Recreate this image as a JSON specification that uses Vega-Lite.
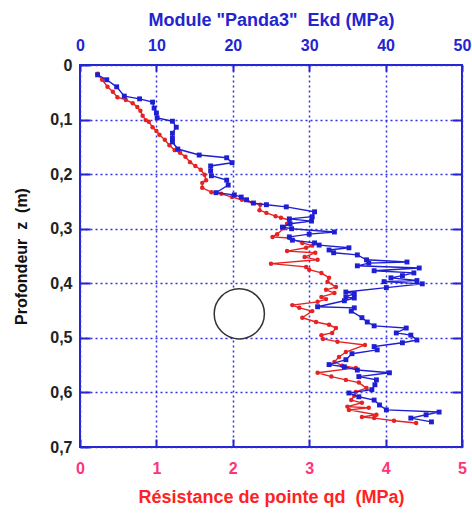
{
  "$schema": "https://vega.github.io/schema/vega-lite/v6.json",
  "width": 382,
  "height": 382,
  "autosize": {"type": "none"},
  "padding": {"left": 80, "top": 65, "right": 10, "bottom": 70},
  "config": {
    "view": {"stroke": "#2424d0", "strokeWidth": 2},
    "font": "Liberation Sans"
  },
  "datasets": {
    "red": [
      {"qd": 0.23, "z": 0.016}, {"qd": 0.29, "z": 0.027}, {"qd": 0.36, "z": 0.040}, {"qd": 0.43, "z": 0.049},
      {"qd": 0.49, "z": 0.059}, {"qd": 0.60, "z": 0.064}, {"qd": 0.69, "z": 0.070}, {"qd": 0.75, "z": 0.077},
      {"qd": 0.79, "z": 0.084}, {"qd": 0.82, "z": 0.093}, {"qd": 0.86, "z": 0.101}, {"qd": 0.90, "z": 0.104},
      {"qd": 0.95, "z": 0.114}, {"qd": 1.00, "z": 0.121}, {"qd": 1.04, "z": 0.128}, {"qd": 1.11, "z": 0.137},
      {"qd": 1.17, "z": 0.147}, {"qd": 1.24, "z": 0.156}, {"qd": 1.31, "z": 0.161}, {"qd": 1.38, "z": 0.168},
      {"qd": 1.44, "z": 0.178}, {"qd": 1.51, "z": 0.185}, {"qd": 1.58, "z": 0.192}, {"qd": 1.63, "z": 0.201},
      {"qd": 1.65, "z": 0.211}, {"qd": 1.60, "z": 0.216}, {"qd": 1.60, "z": 0.225}, {"qd": 1.72, "z": 0.233},
      {"qd": 1.85, "z": 0.236}, {"qd": 1.99, "z": 0.242}, {"qd": 2.12, "z": 0.247}, {"qd": 2.26, "z": 0.253},
      {"qd": 2.36, "z": 0.256}, {"qd": 2.35, "z": 0.266}, {"qd": 2.44, "z": 0.271}, {"qd": 2.56, "z": 0.277},
      {"qd": 2.63, "z": 0.280}, {"qd": 2.74, "z": 0.284}, {"qd": 2.71, "z": 0.291}, {"qd": 2.67, "z": 0.299},
      {"qd": 2.58, "z": 0.310}, {"qd": 2.52, "z": 0.315}, {"qd": 2.74, "z": 0.317}, {"qd": 2.91, "z": 0.326},
      {"qd": 3.04, "z": 0.331}, {"qd": 2.96, "z": 0.335}, {"qd": 2.71, "z": 0.341}, {"qd": 3.08, "z": 0.344},
      {"qd": 2.94, "z": 0.352}, {"qd": 3.11, "z": 0.357}, {"qd": 2.50, "z": 0.364}, {"qd": 2.96, "z": 0.370},
      {"qd": 3.00, "z": 0.375}, {"qd": 3.16, "z": 0.381}, {"qd": 3.26, "z": 0.390}, {"qd": 3.24, "z": 0.397},
      {"qd": 3.35, "z": 0.407}, {"qd": 3.22, "z": 0.412}, {"qd": 3.33, "z": 0.418}, {"qd": 3.16, "z": 0.425},
      {"qd": 3.22, "z": 0.429}, {"qd": 3.11, "z": 0.434}, {"qd": 2.78, "z": 0.440}, {"qd": 2.87, "z": 0.445},
      {"qd": 3.04, "z": 0.451}, {"qd": 2.91, "z": 0.463}, {"qd": 3.09, "z": 0.471}, {"qd": 3.26, "z": 0.476},
      {"qd": 3.35, "z": 0.482}, {"qd": 3.30, "z": 0.491}, {"qd": 3.16, "z": 0.495}, {"qd": 3.18, "z": 0.502},
      {"qd": 3.37, "z": 0.507}, {"qd": 3.73, "z": 0.513}, {"qd": 3.48, "z": 0.526}, {"qd": 3.39, "z": 0.535},
      {"qd": 3.33, "z": 0.544}, {"qd": 3.43, "z": 0.551}, {"qd": 3.61, "z": 0.555}, {"qd": 3.11, "z": 0.564},
      {"qd": 3.29, "z": 0.571}, {"qd": 3.48, "z": 0.577}, {"qd": 3.65, "z": 0.582}, {"qd": 3.75, "z": 0.592},
      {"qd": 3.61, "z": 0.599}, {"qd": 3.59, "z": 0.606}, {"qd": 3.55, "z": 0.614}, {"qd": 3.69, "z": 0.619},
      {"qd": 3.50, "z": 0.626}, {"qd": 3.78, "z": 0.628}, {"qd": 3.52, "z": 0.632}, {"qd": 3.88, "z": 0.641},
      {"qd": 3.69, "z": 0.645}, {"qd": 3.85, "z": 0.647}, {"qd": 4.11, "z": 0.652}, {"qd": 4.40, "z": 0.656}
    ],
    "blue": [
      {"ekd": 2.3, "z": 0.018}, {"ekd": 3.5, "z": 0.027}, {"ekd": 4.8, "z": 0.040}, {"ekd": 5.8, "z": 0.057},
      {"ekd": 7.8, "z": 0.062}, {"ekd": 9.5, "z": 0.068}, {"ekd": 9.7, "z": 0.079}, {"ekd": 10.0, "z": 0.088},
      {"ekd": 10.1, "z": 0.097}, {"ekd": 12.1, "z": 0.103}, {"ekd": 12.6, "z": 0.114}, {"ekd": 12.1, "z": 0.125},
      {"ekd": 12.1, "z": 0.134}, {"ekd": 12.1, "z": 0.141}, {"ekd": 12.8, "z": 0.154}, {"ekd": 15.6, "z": 0.165},
      {"ekd": 19.2, "z": 0.170}, {"ekd": 19.9, "z": 0.179}, {"ekd": 17.1, "z": 0.185}, {"ekd": 17.1, "z": 0.194},
      {"ekd": 17.2, "z": 0.203}, {"ekd": 19.2, "z": 0.211}, {"ekd": 19.4, "z": 0.220}, {"ekd": 17.8, "z": 0.234},
      {"ekd": 20.2, "z": 0.238}, {"ekd": 21.1, "z": 0.242}, {"ekd": 21.8, "z": 0.247}, {"ekd": 22.7, "z": 0.253},
      {"ekd": 24.4, "z": 0.256}, {"ekd": 27.0, "z": 0.260}, {"ekd": 30.7, "z": 0.269}, {"ekd": 30.4, "z": 0.278},
      {"ekd": 27.4, "z": 0.282}, {"ekd": 30.3, "z": 0.286}, {"ekd": 27.5, "z": 0.291}, {"ekd": 26.5, "z": 0.297},
      {"ekd": 27.7, "z": 0.300}, {"ekd": 33.3, "z": 0.306}, {"ekd": 30.0, "z": 0.310}, {"ekd": 27.4, "z": 0.315},
      {"ekd": 27.8, "z": 0.321}, {"ekd": 30.7, "z": 0.326}, {"ekd": 31.3, "z": 0.330}, {"ekd": 35.2, "z": 0.335},
      {"ekd": 32.6, "z": 0.339}, {"ekd": 33.2, "z": 0.344}, {"ekd": 36.3, "z": 0.348}, {"ekd": 37.5, "z": 0.357},
      {"ekd": 42.8, "z": 0.361}, {"ekd": 37.8, "z": 0.363}, {"ekd": 36.3, "z": 0.368}, {"ekd": 44.4, "z": 0.372},
      {"ekd": 38.5, "z": 0.377}, {"ekd": 43.7, "z": 0.381}, {"ekd": 42.2, "z": 0.386}, {"ekd": 40.7, "z": 0.390},
      {"ekd": 44.1, "z": 0.395}, {"ekd": 39.8, "z": 0.397}, {"ekd": 44.8, "z": 0.401}, {"ekd": 40.1, "z": 0.408},
      {"ekd": 34.8, "z": 0.416}, {"ekd": 35.9, "z": 0.419}, {"ekd": 34.8, "z": 0.425}, {"ekd": 35.9, "z": 0.427},
      {"ekd": 34.6, "z": 0.432}, {"ekd": 31.1, "z": 0.443}, {"ekd": 35.9, "z": 0.445}, {"ekd": 35.5, "z": 0.451},
      {"ekd": 36.9, "z": 0.463}, {"ekd": 37.6, "z": 0.471}, {"ekd": 38.5, "z": 0.478}, {"ekd": 42.7, "z": 0.482},
      {"ekd": 41.4, "z": 0.491}, {"ekd": 43.3, "z": 0.495}, {"ekd": 44.1, "z": 0.504}, {"ekd": 42.2, "z": 0.509},
      {"ekd": 38.5, "z": 0.516}, {"ekd": 38.9, "z": 0.522}, {"ekd": 35.6, "z": 0.529}, {"ekd": 34.8, "z": 0.540},
      {"ekd": 32.6, "z": 0.549}, {"ekd": 34.6, "z": 0.553}, {"ekd": 36.3, "z": 0.559}, {"ekd": 40.5, "z": 0.564},
      {"ekd": 36.5, "z": 0.571}, {"ekd": 38.8, "z": 0.577}, {"ekd": 38.6, "z": 0.586}, {"ekd": 38.2, "z": 0.595},
      {"ekd": 35.2, "z": 0.601}, {"ekd": 36.5, "z": 0.608}, {"ekd": 38.5, "z": 0.614}, {"ekd": 39.2, "z": 0.623},
      {"ekd": 40.1, "z": 0.632}, {"ekd": 47.0, "z": 0.636}, {"ekd": 45.3, "z": 0.641}, {"ekd": 43.3, "z": 0.647},
      {"ekd": 46.0, "z": 0.654}
    ],
    "circ": [{"qd": 2.085, "z": 0.456}]
  },
  "layer": [
    {
      "encoding": {
        "x": {
          "field": "qd", "type": "quantitative",
          "scale": {"domain": [0, 5], "nice": false, "zero": false},
          "axis": {
            "orient": "bottom", "title": "Résistance de pointe qd\u00a0 (MPa)", "values": [0, 1, 2, 3, 4, 5],
            "labelFlush": false,
            "domain": false, "grid": true, "gridColor": "#3030e8", "gridDash": [2, 3], "gridWidth": 1.5, "gridOpacity": 1,
            "tickColor": "#2424d0", "tickWidth": 2, "tickSize": -8,
            "labelColor": "#ff3377", "labelFontSize": 16, "labelFontWeight": "bold", "labelPadding": 21,
            "titleColor": "#ff2222", "titleFontSize": 18, "titleFontWeight": "bold", "titlePadding": 12
          }
        },
        "y": {
          "field": "z", "type": "quantitative",
          "scale": {"domain": [0, 0.7], "nice": false, "zero": false, "reverse": true},
          "axis": {
            "orient": "left", "title": "Profondeur\u00a0 z\u00a0 (m)", "values": [0, 0.1, 0.2, 0.3, 0.4, 0.5, 0.6, 0.7],
            "labelExpr": "datum.value == 0 ? '0' : replace(format(datum.value, '.1f'), '.', ',')",
            "labelFlush": false,
            "domain": false, "grid": true, "gridColor": "#3030e8", "gridDash": [2, 3], "gridWidth": 1.5, "gridOpacity": 1,
            "tickColor": "#2424d0", "tickWidth": 2, "tickSize": -10,
            "labelColor": "#222222", "labelFontSize": 16, "labelFontWeight": "bold", "labelPadding": 18,
            "titleColor": "#111111", "titleFontSize": 16, "titleFontWeight": "bold", "titlePadding": 20
          }
        },
        "order": {"field": "z", "type": "quantitative"}
      },
      "layer": [
        {"data": {"name": "red"}, "mark": {"type": "line", "color": "#e62222", "strokeWidth": 1.4}},
        {"data": {"name": "red"}, "mark": {"type": "point", "shape": "circle", "filled": true, "size": 20, "color": "#e62222", "opacity": 1}},
        {"data": {"name": "circ"}, "mark": {"type": "point", "shape": "circle", "size": 2520, "filled": true, "fill": "white", "fillOpacity": 1, "stroke": "#333333", "strokeWidth": 1.5, "opacity": 1}}
      ]
    },
    {
      "encoding": {
        "x": {
          "field": "ekd", "type": "quantitative",
          "scale": {"domain": [0, 50], "nice": false, "zero": false},
          "axis": {
            "orient": "top", "title": "Module \"Panda3\"\u00a0 Ekd (MPa)", "values": [0, 10, 20, 30, 40, 50],
            "labelFlush": false,
            "domain": false, "grid": false,
            "tickColor": "#2424d0", "tickWidth": 2, "tickSize": -6,
            "labelColor": "#2424d0", "labelFontSize": 16, "labelFontWeight": "bold", "labelPadding": 18,
            "titleColor": "#2424d0", "titleFontSize": 18, "titleFontWeight": "bold", "titlePadding": 8
          }
        },
        "y": {
          "field": "z", "type": "quantitative",
          "scale": {"domain": [0, 0.7], "nice": false, "zero": false, "reverse": true},
          "axis": {
            "orient": "right", "title": null, "labels": false, "values": [0.1, 0.2, 0.3, 0.4, 0.5, 0.6],
            "domain": false, "grid": false,
            "tickColor": "#2424d0", "tickWidth": 2, "tickSize": -10
          }
        },
        "order": {"field": "z", "type": "quantitative"}
      },
      "layer": [
        {"data": {"name": "blue"}, "mark": {"type": "line", "color": "#1e1ed2", "strokeWidth": 1.4}},
        {"data": {"name": "blue"}, "mark": {"type": "point", "shape": "square", "filled": true, "size": 24, "color": "#1e1ed2", "opacity": 1}}
      ]
    }
  ],
  "resolve": {"scale": {"x": "independent", "y": "independent"}}
}
